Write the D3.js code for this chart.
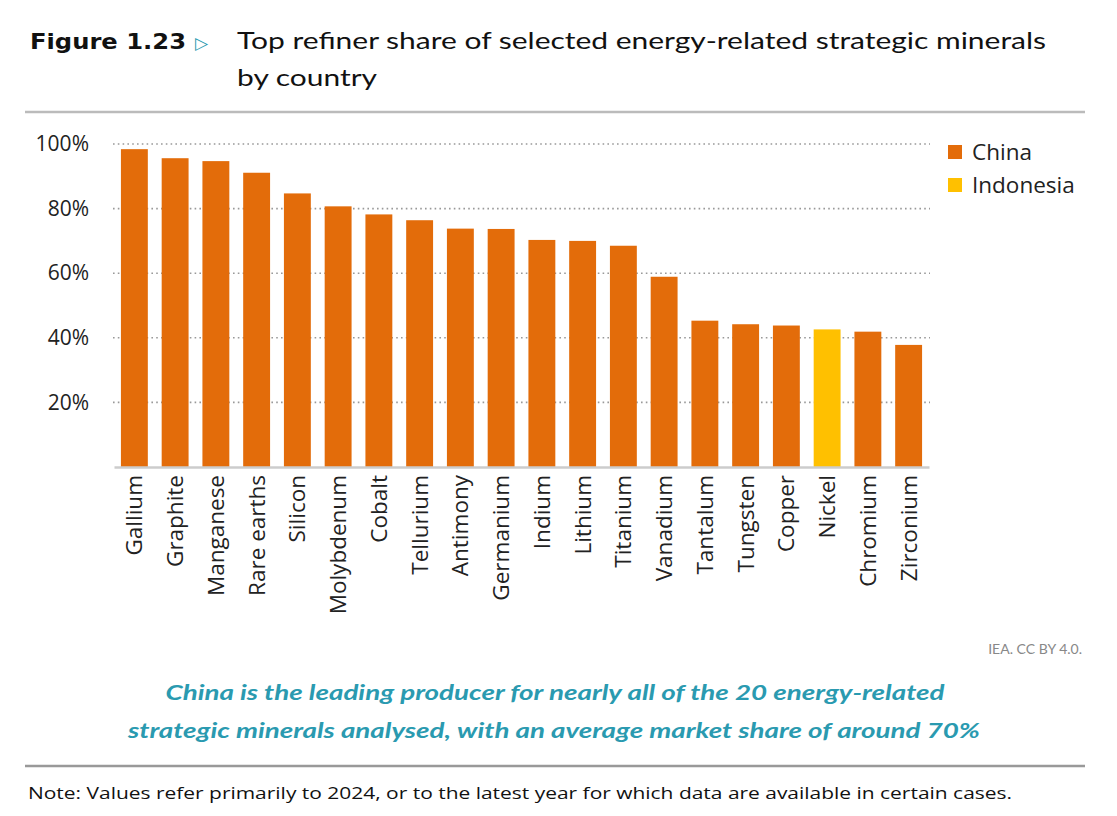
<!DOCTYPE html>
<html><head><meta charset="utf-8">
<script src="https://cdn.jsdelivr.net/npm/d3@7"></script>
<style>body{margin:0;background:#fff;} svg{display:block;}</style>
</head><body>
<script>
const minerals = ["Gallium","Graphite","Manganese","Rare earths","Silicon","Molybdenum","Cobalt","Tellurium","Antimony","Germanium","Indium","Lithium","Titanium","Vanadium","Tantalum","Tungsten","Copper","Nickel","Chromium","Zirconium"];
const shares = [98.4,95.6,94.7,91.1,84.7,80.7,78.2,76.4,73.8,73.7,70.3,70.0,68.5,58.9,45.3,44.2,43.8,42.6,41.9,37.8];
const topCountry = ["China","China","China","China","China","China","China","China","China","China","China","China","China","China","China","China","China","Indonesia","China","China"];
const countries = ["China","Indonesia"];
const countryColors = ["#E36C0A","#FFC000"];
const yTicks = [20,40,60,80,100];

const W=1117,H=816;
const svg=d3.select("body").append("svg").attr("width",W).attr("height",H);
const teal="#2A9AB0";

// Header
svg.append("text").attr("x",30).attr("y",49).attr("font-family","DejaVu Sans").attr("font-weight","bold")
  .attr("font-size",22).attr("fill","#111").attr("textLength",156).attr("lengthAdjust","spacingAndGlyphs").text("Figure 1.23");
svg.append("text").attr("x",195).attr("y",49).attr("font-family","DejaVu Sans").attr("font-size",17).attr("fill",teal).text("▷");
const tfont={"font-family":"Lato","font-size":24,"fill":"#111"};
const t1=svg.append("text").attr("x",237).attr("y",49).attr("textLength",809).attr("lengthAdjust","spacingAndGlyphs").text("Top refiner share of selected energy-related strategic minerals");
const t2=svg.append("text").attr("x",237).attr("y",86).attr("textLength",140).attr("lengthAdjust","spacingAndGlyphs").text("by country");
[t1,t2].forEach(t=>{for(const k in tfont) t.attr(k,tfont[k]);});
svg.append("line").attr("x1",25).attr("x2",1085).attr("y1",112).attr("y2",112).attr("stroke","#bbb").attr("stroke-width",2.5);

// Chart
const x=d3.scaleBand().domain(minerals).range([114,929]).paddingInner(0.34).paddingOuter(0.17);
const y=d3.scaleLinear().domain([0,100]).range([467,144]);
const color=d3.scaleOrdinal().domain(countries).range(countryColors);

const grid=svg.append("g");
grid.selectAll("line").data(yTicks).join("line")
  .attr("x1",113).attr("x2",930).attr("y1",d=>y(d)).attr("y2",d=>y(d))
  .attr("stroke","#999").attr("stroke-width",1.6).attr("stroke-dasharray","1.6,3.2");

const yAxis=svg.append("g").attr("transform","translate(113,0)")
  .call(d3.axisLeft(y).tickValues(yTicks).tickSize(0).tickPadding(24).tickFormat(d=>d+"%"));
yAxis.select(".domain").remove();
yAxis.selectAll("text").attr("font-family","Open Sans").attr("font-size",21).attr("fill","#222");

svg.append("g").selectAll("rect").data(minerals).join("rect")
  .attr("x",d=>x(d)).attr("width",x.bandwidth())
  .attr("y",(d,i)=>y(shares[i])).attr("height",(d,i)=>y(0)-y(shares[i]))
  .attr("fill",(d,i)=>color(topCountry[i]));

const xAxis=svg.append("g").attr("transform","translate(0,467)")
  .call(d3.axisBottom(x).tickSize(0).tickPadding(0));
xAxis.select(".domain").attr("stroke","#ccc").attr("stroke-width",2.5);
xAxis.selectAll("text").attr("font-family","Open Sans").attr("font-size",22.5).attr("fill","#222")
  .attr("transform","rotate(-90)").attr("text-anchor","end").attr("dx","-8").attr("dy","0.36em").attr("x",0).attr("y",0);

// Legend
const leg=svg.append("g").selectAll("g").data(countries).join("g")
  .attr("transform",(d,i)=>`translate(948,${145+i*33})`);
leg.append("rect").attr("width",14).attr("height",14).attr("fill",d=>color(d));
leg.append("text").attr("x",24).attr("y",7).attr("dy","0.35em").attr("font-family","Open Sans").attr("font-size",22.5).attr("fill","#222").text(d=>d);

// Source
svg.append("text").attr("x",1082).attr("y",654).attr("text-anchor","end").attr("font-family","Lato").attr("font-size",14).attr("fill","#888").text("IEA. CC BY 4.0.");

// Key message
const s1=svg.append("text").attr("x",555).attr("y",700).attr("textLength",779).text("China is the leading producer for nearly all of the 20 energy-related");
const s2=svg.append("text").attr("x",554).attr("y",738).attr("textLength",852).text("strategic minerals analysed, with an average market share of around 70%");
[s1,s2].forEach(t=>t.attr("text-anchor","middle").attr("font-family","Lato").attr("font-style","italic").attr("font-weight","bold")
  .attr("font-size",21).attr("fill",teal).attr("lengthAdjust","spacingAndGlyphs"));

svg.append("line").attr("x1",25).attr("x2",1085).attr("y1",766).attr("y2",766).attr("stroke","#999").attr("stroke-width",2.5);
svg.append("text").attr("x",28).attr("y",799).attr("font-family","Open Sans").attr("font-size",16.5).attr("fill","#111")
  .attr("textLength",984).attr("lengthAdjust","spacingAndGlyphs")
  .text("Note: Values refer primarily to 2024, or to the latest year for which data are available in certain cases.");
</script>
</body></html>
